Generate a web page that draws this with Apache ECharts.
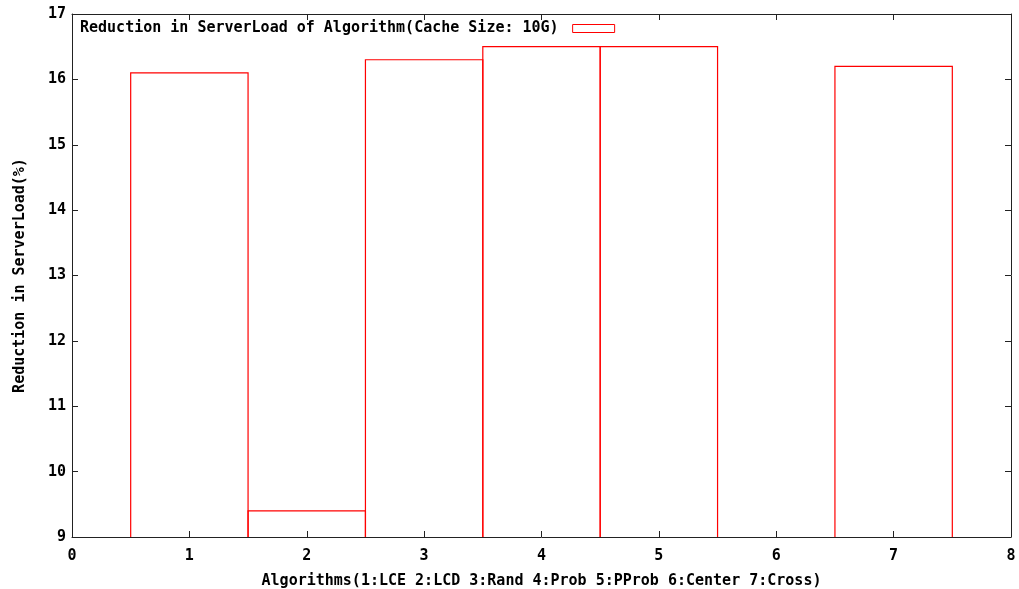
<!DOCTYPE html>
<html>
<head>
<meta charset="utf-8">
<script src="https://cdn.jsdelivr.net/npm/echarts@6/dist/echarts.min.js"></script>
<style>
  html, body { margin: 0; padding: 0; background: #fff; }
  #chart { width: 1019px; height: 589px; }
</style>
</head>
<body>
<div id="chart"></div>
<script>
// Algorithm index on the x axis, reduction (%) on the y axis
const algorithms = [1, 2, 3, 4, 5, 7];
const reduction = [16.1, 9.4, 16.3, 16.5, 16.5, 16.2];
const xTicks = [0, 1, 2, 3, 4, 5, 6, 7, 8];
const yTicks = [9, 10, 11, 12, 13, 14, 15, 16, 17];

const seriesName = 'Reduction in ServerLoad of Algorithm(Cache Size: 10G)';
const FONT = '"DejaVu Sans Mono", "Liberation Mono", monospace';
const RED = '#ff0000';
const AXIS = '#222';

const chart = echarts.init(document.getElementById('chart'));

const labelStyle = { color: '#000', fontFamily: FONT, fontWeight: 'bold', fontSize: 15 };

function xAxisDef(pos, showLabel) {
  return {
    type: 'value', position: pos,
    min: xTicks[0], max: xTicks[xTicks.length - 1], interval: 1,
    name: showLabel ? 'Algorithms(1:LCE 2:LCD 3:Rand 4:Prob 5:PProb 6:Center 7:Cross)' : '',
    nameLocation: 'middle', nameGap: 37,
    nameTextStyle: labelStyle,
    axisLine: { show: true, onZero: false, lineStyle: { color: AXIS, width: 1 } },
    axisTick: { show: true, inside: true, length: 6, lineStyle: { color: AXIS } },
    axisLabel: Object.assign({ show: showLabel, margin: 12 }, labelStyle),
    splitLine: { show: false },
    z: 5
  };
}
function yAxisDef(pos, showLabel) {
  return {
    type: 'value', position: pos,
    min: yTicks[0], max: yTicks[yTicks.length - 1], interval: 1,
    name: showLabel ? 'Reduction in ServerLoad(%)' : '',
    nameLocation: 'middle', nameGap: 44, nameRotate: 90,
    nameTextStyle: labelStyle,
    axisLine: { show: true, onZero: false, lineStyle: { color: AXIS, width: 1 } },
    axisTick: { show: true, inside: true, length: 6, lineStyle: { color: AXIS } },
    axisLabel: Object.assign({ show: showLabel, margin: 6 }, labelStyle),
    splitLine: { show: false },
    z: 5
  };
}

chart.setOption({
  animation: false,
  backgroundColor: '#fff',
  grid: { left: 72, right: 8, top: 14, bottom: 52, containLabel: false, outerBoundsMode: 'none' },
  legend: {
    left: 75, top: 16,
    align: 'right',
    itemWidth: 42, itemHeight: 8,
    icon: 'rect',
    textStyle: Object.assign({ padding: [0, 9, 0, 0] }, labelStyle),
    data: [{
      name: seriesName,
      itemStyle: { color: 'rgba(0,0,0,0)', borderColor: RED, borderWidth: 1 }
    }]
  },
  xAxis: [xAxisDef('bottom', true), xAxisDef('top', false)],
  yAxis: [yAxisDef('left', true), yAxisDef('right', false)],
  series: [{
    name: seriesName,
    type: 'custom',
    clip: true,
    z: 2,
    itemStyle: { color: 'rgba(0,0,0,0)', borderColor: RED },
    data: algorithms.map((a, i) => [a, reduction[i]]),
    renderItem: function (params, api) {
      const x = api.value(0), v = api.value(1);
      const base = yTicks[0];
      // open box: left edge, top, right edge (the baseline is the axis)
      const bl = api.coord([x - 0.5, base]);
      const tl = api.coord([x - 0.5, v]);
      const tr = api.coord([x + 0.5, v]);
      const br = api.coord([x + 0.5, base]);
      return {
        type: 'polyline',
        shape: { points: [bl, tl, tr, br] },
        style: { fill: 'none', stroke: RED, lineWidth: 1.2 }
      };
    }
  }]
});
</script>
</body>
</html>
